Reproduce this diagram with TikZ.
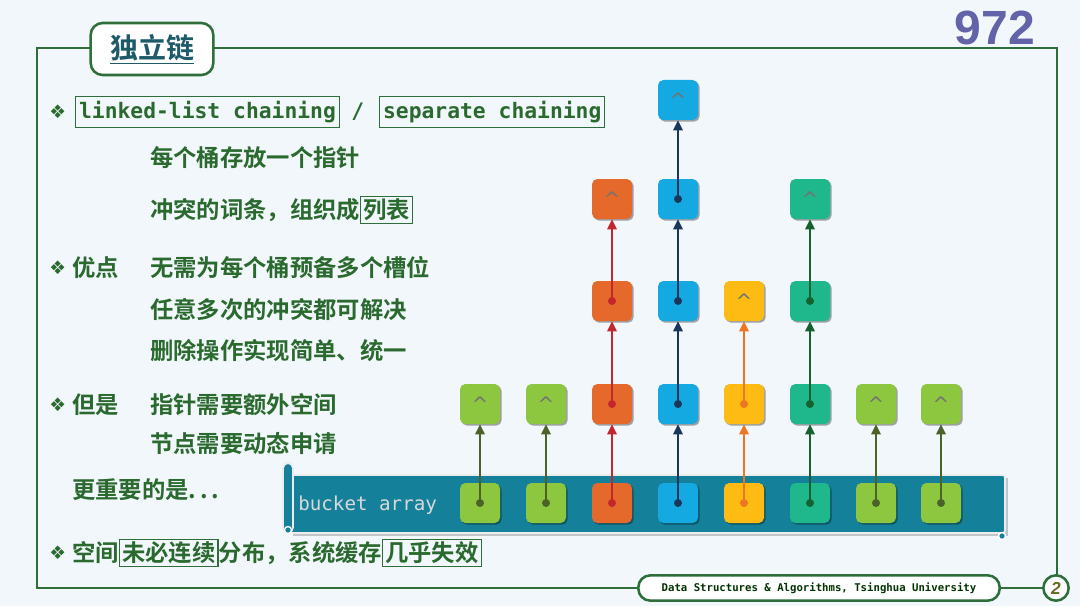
\documentclass[tikz,border=0pt]{standalone}
\usepackage{fontspec}
\usetikzlibrary{arrows.meta,shadows}
\setmainfont{Noto Sans CJK SC}[BoldFont={Noto Sans CJK SC Bold}]
\newfontfamily\monof{DejaVu Sans Mono}
\newfontfamily\symf{DejaVu Sans}
\newfontfamily\numf{Liberation Sans}
\definecolor{bg}{HTML}{F2F7FC}
\definecolor{frameg}{HTML}{2D6E3B}
\definecolor{txtg}{HTML}{2A6A2E}
\definecolor{titlec}{HTML}{1F5A69}
\definecolor{numc}{HTML}{6263A8}
\definecolor{barc}{HTML}{15809A}
\definecolor{cgreen}{HTML}{8DC63F}
\definecolor{agreen}{HTML}{4B6229}
\definecolor{corange}{HTML}{E5692A}
\definecolor{aorange}{HTML}{C1272D}
\definecolor{cblue}{HTML}{14A9E1}
\definecolor{ablue}{HTML}{1B365D}
\definecolor{cyellow}{HTML}{FDBB13}
\definecolor{ayellow}{HTML}{EE7623}
\definecolor{cteal}{HTML}{1EB88C}
\definecolor{ateal}{HTML}{17612F}
\newcommand\zh{\fontsize{17.5pt}{20pt}\selectfont\bfseries}
\newcommand\gbox[1]{{\setlength\fboxsep{1.5pt}\setlength\fboxrule{0.9pt}\color{frameg}\fbox{\color{txtg}#1}}}
\newcommand\bul{{\symf\fontsize{14pt}{16pt}\selectfont ❖}}
\newcommand\nulmark{\raisebox{-4pt}{\textasciicircum}}
\tikzset{
  frame/.style={draw=frameg, line width=1.9pt},
  txt/.style={anchor=west, inner sep=0pt, text=txtg, font=\zh},
  mbox/.style={anchor=west, draw=frameg, line width=0.9pt, inner xsep=2.6pt, inner ysep=0pt,
    minimum height=23pt, text=txtg, font=\monof\bfseries\fontsize{16pt}{18pt}\selectfont},
  cell/.style={rounded corners=4pt, minimum size=30pt, inner sep=0pt,
    drop shadow={shadow xshift=1.2pt, shadow yshift=-1.2pt, opacity=0.35, fill=black}},
  nul/.style={cell, text=black!55, font=\symf\fontsize{15pt}{15pt}\selectfont},
  link/.style={draw=#1, line width=1.6pt, -{Triangle[length=7.5pt,width=7pt]}},
}
\newcommand\ptr[3]{\draw[link=#3] (#1.center) -- (#2.south); \fill[#3] (#1.center) circle (3pt);}
\begin{document}
\begin{tikzpicture}[x=0.75pt,y=-0.75pt]
\fill[bg] (0,0) rectangle (1080,606);
\useasboundingbox (0,0) rectangle (1080,606);
% frame
\draw[frame] (1057,575) -- (1057,48) -- (37,48) -- (37,588) -- (1057,588);
\node[draw=frameg, line width=1.9pt, fill=white, rounded corners=9pt, minimum width=92pt, minimum height=39pt, text=titlec, font=\fontsize{21pt}{24pt}\selectfont\bfseries] (title) at (152,49) {\underline{独立链}};
\node[text=numc, font=\numf\bfseries\fontsize{36pt}{40pt}\selectfont] (num) at (995,28) {972};
\node[draw=frameg, line width=1.9pt, fill=white, rounded corners=9pt, minimum width=271pt, minimum height=19pt, inner sep=0pt, text=black!80!green, font=\monof\bfseries\fontsize{8pt}{9pt}\selectfont] (foot) at (819,588) {Data Structures \& Algorithms, Tsinghua University};
\node[circle, draw=frameg, line width=1.9pt, fill=white, minimum size=19pt, inner sep=0pt, text=olive!70!black, font=\numf\bfseries\itshape\fontsize{13pt}{13pt}\selectfont] (pg) at (1056,588) {2};
% text
\node[txt] (b1) at (49,112) {\bul};
\node[mbox] (lk) at (75,112) {linked-list chaining};
\node[txt, font=\monof\bfseries\fontsize{16pt}{18pt}\selectfont] (sl) at (351,112) {/};
\node[mbox] (sc) at (379,112) {separate chaining};
\node[txt] (l2) at (150,158) {每个桶存放一个指针};
\node[txt] (l3) at (150,210) {冲突的词条，组织成\gbox{列表}};
\node[txt] (b2) at (49,268) {\bul};
\node[txt] (yd) at (72,268) {优点};
\node[txt] (l4) at (150,268) {无需为每个桶预备多个槽位};
\node[txt] (l5) at (150,310) {任意多次的冲突都可解决};
\node[txt] (l6) at (150,351) {删除操作实现简单、统一};
\node[txt] (b3) at (49,405) {\bul};
\node[txt] (ds) at (72,405) {但是};
\node[txt] (l7) at (150,405) {指针需要额外空间};
\node[txt] (l8) at (150,444) {节点需要动态申请};
\node[txt] (l9) at (72,490) {更重要的是.\,.\,.};
\node[txt] (b4) at (49,553) {\bul};
\node[txt] (l10) at (72,553) {空间\gbox{未必连续}分布，系统缓存\gbox{几乎失效}};
% bucket array bar
\fill[black, opacity=0.2] (293,478) rectangle (1008,536);
\draw[fill=barc, draw=white!85!gray, line width=1.2pt, rounded corners=2pt] (290,475) rectangle (1005,533);
\draw[fill=barc, draw=white!85!gray, line width=1.2pt, rounded corners=4pt] (283,463) rectangle (293,533);
\draw[draw=white, fill=barc, line width=1pt] (288,530) circle (3.5);
\draw[draw=white, fill=barc, line width=1pt] (1002,536) circle (3.5);
\node[anchor=west, inner sep=0pt, text=white!85!black, font=\monof\fontsize{14.4pt}{16pt}\selectfont] (ba) at (298,505) {bucket array};
% cells
\node[cell, fill=cgreen] (g1b) at (480,503) {};
\node[nul, fill=cgreen] (g1n) at (480,404) {\nulmark};
\node[cell, fill=cgreen] (g2b) at (546,503) {};
\node[nul, fill=cgreen] (g2n) at (546,404) {\nulmark};
\node[cell, fill=corange] (o0) at (612,503) {};
\node[cell, fill=corange] (o1) at (612,404) {};
\node[cell, fill=corange] (o2) at (612,301) {};
\node[nul, fill=corange] (o3) at (612,199) {\nulmark};
\node[cell, fill=cblue] (u0) at (678,503) {};
\node[cell, fill=cblue] (u1) at (678,404) {};
\node[cell, fill=cblue] (u2) at (678,301) {};
\node[cell, fill=cblue] (u3) at (678,199) {};
\node[nul, fill=cblue] (u4) at (678,100) {\nulmark};
\node[cell, fill=cyellow] (y0) at (744,503) {};
\node[cell, fill=cyellow] (y1) at (744,404) {};
\node[nul, fill=cyellow] (y2) at (744,301) {\nulmark};
\node[cell, fill=cteal] (t0) at (810,503) {};
\node[cell, fill=cteal] (t1) at (810,404) {};
\node[cell, fill=cteal] (t2) at (810,301) {};
\node[nul, fill=cteal] (t3) at (810,199) {\nulmark};
\node[cell, fill=cgreen] (g7b) at (876,503) {};
\node[nul, fill=cgreen] (g7n) at (876,404) {\nulmark};
\node[cell, fill=cgreen] (g8b) at (941,503) {};
\node[nul, fill=cgreen] (g8n) at (941,404) {\nulmark};
% pointers
\ptr{g1b}{g1n}{agreen}
\ptr{g2b}{g2n}{agreen}
\ptr{o0}{o1}{aorange}
\ptr{o1}{o2}{aorange}
\ptr{o2}{o3}{aorange}
\ptr{u0}{u1}{ablue}
\ptr{u1}{u2}{ablue}
\ptr{u2}{u3}{ablue}
\ptr{u3}{u4}{ablue}
\ptr{y0}{y1}{ayellow}
\ptr{y1}{y2}{ayellow}
\ptr{t0}{t1}{ateal}
\ptr{t1}{t2}{ateal}
\ptr{t2}{t3}{ateal}
\ptr{g7b}{g7n}{agreen}
\ptr{g8b}{g8n}{agreen}
\end{tikzpicture}
\end{document}
